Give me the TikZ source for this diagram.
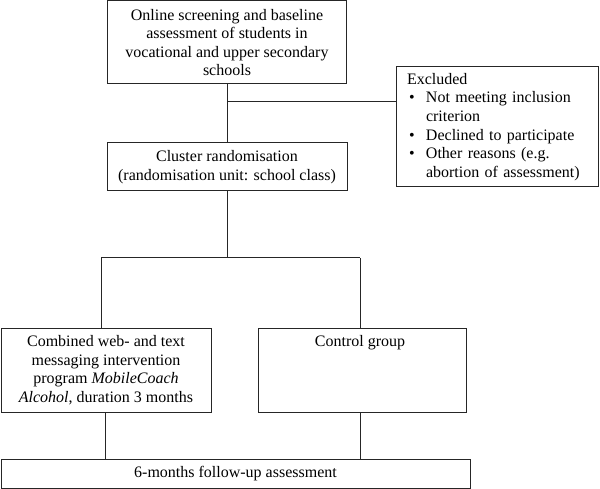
\documentclass[tikz,border=0pt]{standalone}
\usepackage{fontspec}
\setmainfont{Liberation Serif}
\begin{document}
\begin{tikzpicture}[x=1pt,y=-1pt,
  box/.style={draw=black!85, line width=1pt, rectangle, inner sep=0pt, align=center,
    font=\fontsize{16}{18.6}\selectfont},
  conn/.style={draw=black!85, line width=1pt}]
\useasboundingbox (0,0) rectangle (600,489);
\node[box, minimum width=239, minimum height=83] (screen) at (227,42.5)
  {Online screening and baseline\\assessment of students in\\vocational and upper secondary\\schools};
\node[box, minimum width=202, minimum height=120, align=left, text width=180,
  inner xsep=11pt] (excl) at (497,127)
  {Excluded\\
   \hspace*{2pt}\makebox[17pt][l]{\textbullet}Not meeting inclusion\\
   \hspace*{19pt}criterion\\
   \hspace*{2pt}\makebox[17pt][l]{\textbullet}Declined to participate\\
   \hspace*{2pt}\makebox[17pt][l]{\textbullet}Other reasons (e.g.\\
   \hspace*{19pt}abortion of assessment)};
\node[box, minimum width=240, minimum height=48] (cluster) at (227,167)
  {Cluster randomisation\\(randomisation unit: school class)};
\node[box, minimum width=210, minimum height=84] (interv) at (106,370)
  {Combined web- and text\\messaging intervention\\program \textit{MobileCoach}\\\textit{Alcohol}, duration 3 months};
\node[box, minimum width=208, minimum height=84] (ctrl) at (362,370) {};
\node[anchor=center, inner sep=0pt, font=\fontsize{16}{18.6}\selectfont] (ctrltext) at (360,343) {Control group};
\node[box, minimum width=469, minimum height=29] (follow) at (235.5,473.5)
  {6-months follow-up assessment};
% connectors
\coordinate (j1) at (227,102);
\coordinate (split) at (227,258);
\coordinate (la) at (101,258);
\coordinate (ra) at (360,258);
\draw[conn] (screen.south) -- (cluster.north);
\draw[conn] (j1) -- (j1 -| excl.west);
\draw[conn] (cluster.south) -- (split);
\draw[conn] (la) -- (ra);
\draw[conn] (la) -- (la |- interv.north);
\draw[conn] (ra) -- (ra |- ctrl.north);
\draw[conn] ([xshift=-1pt]interv.south) -- ([xshift=-1pt]interv.south |- follow.north);
\draw[conn] ([xshift=-2pt]ctrl.south) -- ([xshift=-2pt]ctrl.south |- follow.north);
\end{tikzpicture}
\end{document}
